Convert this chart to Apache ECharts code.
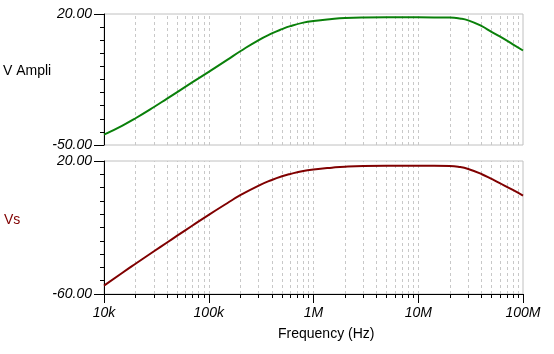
<!DOCTYPE html>
<html>
<head>
<meta charset="utf-8">
<script src="https://cdn.jsdelivr.net/npm/echarts@6/dist/echarts.min.js"></script>
<style>
  html, body { margin: 0; padding: 0; background: #fff; }
  #chart { width: 554px; height: 354px; }
</style>
</head>
<body>
<div id="chart"></div>
<script>
// frequency points (Hz)
const freq = [1e4, 1.5e4, 2e4, 3e4, 4e4, 5e4, 7e4, 1e5, 1.5e5, 2e5, 3e5, 4e5, 5e5, 6e5, 8e5,
  1e6, 1.5e6, 2e6, 3e6, 5e6, 1e7, 2e7, 2.5e7, 3e7, 4e7, 5e7, 6e7, 8e7, 1e8];
// top trace "V Ampli"
const vAmpli = [-44.5, -39.6, -35.7, -29.7, -25.2, -21.7, -16.4, -10.9, -4.5, 0.1, 6.1, 9.6, 11.9, 13.5, 15.4,
  16.3, 17.3, 17.8, 18.1, 18.2, 18.2, 18.1, 17.6, 16.6, 13.6, 10.5, 8.0, 3.8, 0.5];
// bottom trace "Vs"
const vs = [-55.0, -47.2, -41.8, -34.3, -29.0, -24.9, -18.8, -12.4, -5.4, -0.6, 5.2, 8.6, 10.8, 12.2, 14.0,
  14.9, 16.0, 16.6, 17.0, 17.1, 17.1, 17.0, 16.4, 15.2, 12.2, 9.2, 6.7, 2.6, -0.8];

const xTickValues = [1e4, 1e5, 1e6, 1e7, 1e8];
const xTickLabels = ['10k', '100k', '1M', '10M', '100M'];
const topTicks = [-50, -43, -36, -29, -22, -15, -8, -1, 6, 13, 20];
const topLabels = [-50, 20];
const bottomTicks = [-60, -52, -44, -36, -28, -20, -12, -4, 4, 12, 20];
const bottomLabels = [-60, 20];

// 1..9 multiples per decade for the grid lines and minor ticks
const minorFreq = [];
[1e4, 1e5, 1e6, 1e7].forEach(function (d) {
  for (let m = 1; m <= 9; m++) minorFreq.push(d * m);
});
minorFreq.push(1e8);
const gridFreq = minorFreq.filter(function (f) { return f > 1e4 && f < 1e8; });

const font = 'Liberation Sans, Arial, sans-serif';
const green = '#0a800a';
const darkRed = '#800000';

function gridLines() {
  return {
    silent: true,
    symbol: 'none',
    z: 1,
    label: { show: false },
    lineStyle: { color: '#c8c8c8', width: 1, type: [3, 3] },
    emphasis: { disabled: true },
    data: gridFreq.map(function (f) { return { xAxis: f }; })
  };
}

function xAxisBase(gridIndex) {
  return {
    type: 'log',
    logBase: 10,
    gridIndex: gridIndex,
    position: 'bottom',
    min: 1e4,
    max: 1e8,
    axisLine: { show: false, onZero: false },
    axisTick: { show: false },
    axisLabel: { show: false },
    splitLine: { show: false }
  };
}

function yAxisBase(gridIndex, min, max) {
  return {
    type: 'value',
    gridIndex: gridIndex,
    position: 'left',
    min: min,
    max: max,
    axisLine: { show: false, onZero: false },
    axisTick: { show: false },
    axisLabel: { show: false },
    splitLine: { show: false }
  };
}

const chart = echarts.init(document.getElementById('chart'));

const xMain = xAxisBase(1);
xMain.axisLine = { show: true, onZero: false, lineStyle: { color: '#000', width: 1 } };
xMain.axisTick = { show: true, customValues: xTickValues, length: 9, lineStyle: { color: '#000' } };
xMain.axisLabel = {
  show: true,
  customValues: xTickValues,
  margin: 12,
  color: '#000',
  fontSize: 14,
  fontStyle: 'italic',
  fontFamily: font,
  formatter: function (v) {
    const i = xTickValues.findIndex(function (t) { return Math.abs(t - v) / t < 1e-6; });
    return i >= 0 ? xTickLabels[i] : '';
  }
};

const xMinor = xAxisBase(1);
xMinor.axisTick = { show: true, customValues: minorFreq, length: 4, lineStyle: { color: '#000' } };

function yMain(gridIndex, min, max, labels) {
  const a = yAxisBase(gridIndex, min, max);
  a.axisLine = { show: true, onZero: false, lineStyle: { color: '#000', width: 1 } };
  a.axisTick = { show: true, customValues: labels, length: 10, lineStyle: { color: '#000' } };
  a.axisLabel = {
    show: true,
    customValues: labels,
    margin: 12,
    color: '#000',
    fontSize: 14,
    fontStyle: 'italic',
    fontFamily: font,
    formatter: function (v) { return v.toFixed(2); }
  };
  return a;
}

function yMinor(gridIndex, min, max, ticks) {
  const a = yAxisBase(gridIndex, min, max);
  a.axisTick = { show: true, customValues: ticks, length: 4, lineStyle: { color: '#000' } };
  return a;
}

chart.setOption({
  animation: false,
  backgroundColor: '#fff',
  grid: [
    { left: 104, top: 14, width: 419, height: 131, show: true, borderColor: '#c0c0c0', borderWidth: 1, backgroundColor: 'transparent' },
    { left: 104, top: 161, width: 419, height: 133, show: true, borderColor: '#c0c0c0', borderWidth: 1, backgroundColor: 'transparent' }
  ],
  xAxis: [xAxisBase(0), xMain, xMinor],
  yAxis: [
    yMain(0, -50, 20, topLabels),
    yMinor(0, -50, 20, topTicks),
    yMain(1, -60, 20, bottomLabels),
    yMinor(1, -60, 20, bottomTicks)
  ],
  graphic: [
    { type: 'text', left: 3, top: 64, style: { text: 'V Ampli', fill: '#000', font: '14px ' + font } },
    { type: 'text', left: 4, top: 213, style: { text: 'Vs', fill: darkRed, font: '14px ' + font } },
    { type: 'text', left: 278, top: 327, style: { text: 'Frequency (Hz)', fill: '#000', font: '14px ' + font } }
  ],
  series: [
    {
      name: 'V Ampli',
      type: 'line',
      xAxisIndex: 0,
      yAxisIndex: 0,
      z: 3,
      smooth: 0.5,
      showSymbol: false,
      lineStyle: { color: green, width: 2 },
      data: freq.map(function (f, i) { return [f, vAmpli[i]]; }),
      markLine: gridLines()
    },
    {
      name: 'Vs',
      type: 'line',
      xAxisIndex: 1,
      yAxisIndex: 2,
      z: 3,
      smooth: 0.5,
      showSymbol: false,
      lineStyle: { color: darkRed, width: 2 },
      data: freq.map(function (f, i) { return [f, vs[i]]; }),
      markLine: gridLines()
    }
  ]
});
</script>
</body>
</html>
